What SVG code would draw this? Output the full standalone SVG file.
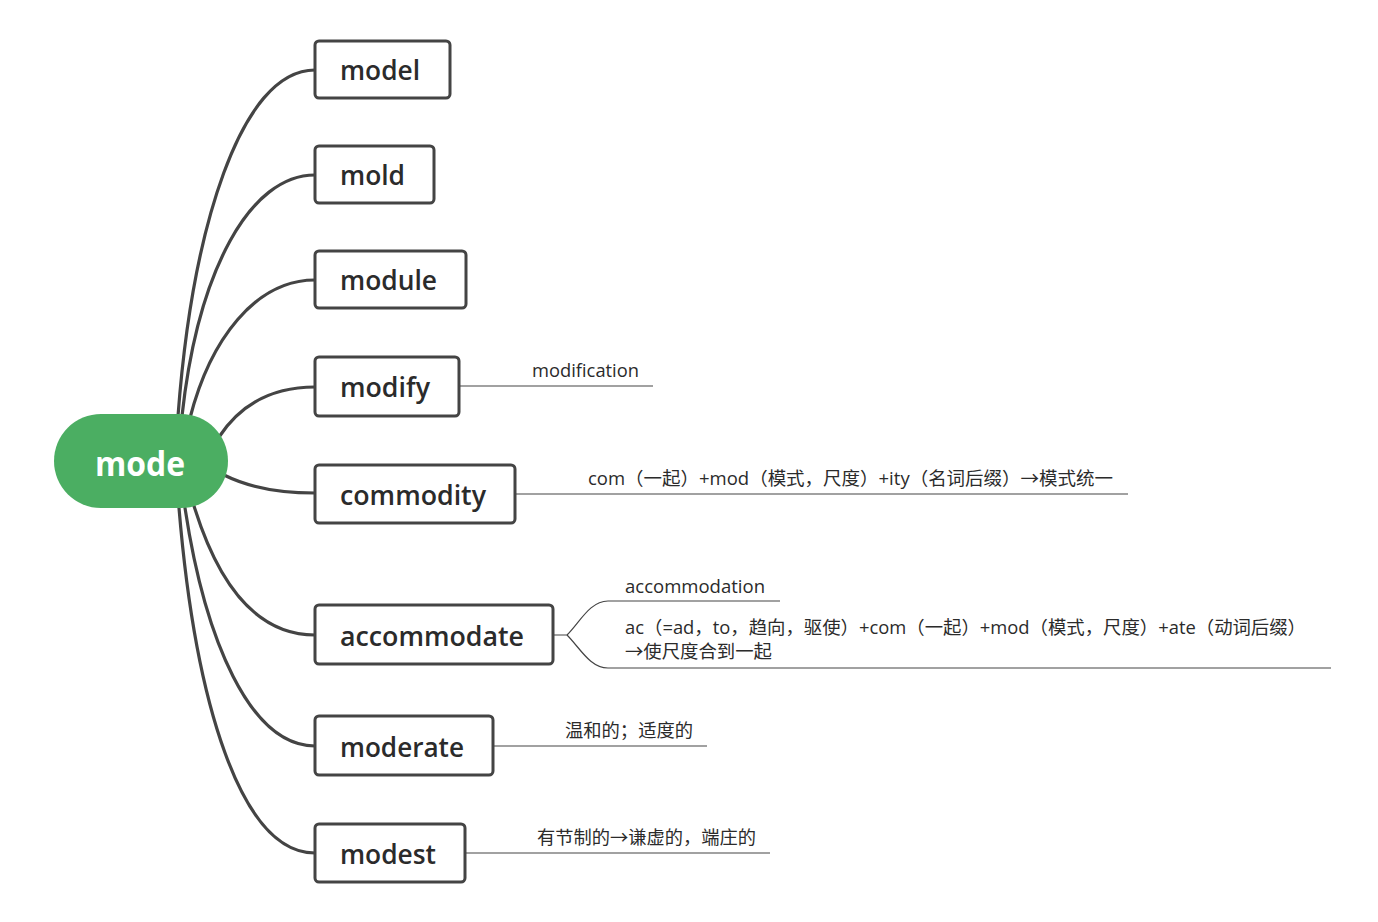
<svg xmlns="http://www.w3.org/2000/svg" width="1378" height="922" viewBox="0 0 1378 922">
<style>
.bg{fill:#ffffff}
.box{fill:#ffffff;stroke:#444444;stroke-width:3}
.lbl{font-family:"Open Sans","Noto Sans",sans-serif;font-size:27px;font-weight:600;fill:#2b2b2b}
.root{fill:#4bae62}
.rootlbl{font-family:"Open Sans","Noto Sans",sans-serif;font-size:34px;font-weight:700;fill:#ffffff}
.conn{fill:none;stroke:#444444;stroke-width:3.2;stroke-linecap:round}
.sub{fill:none;stroke:#444444;stroke-width:1.2}
.note{font-family:"Open Sans","Noto Sans CJK SC",sans-serif;font-size:18px;fill:#2b2b2b}
</style>
<rect class="bg" x="0" y="0" width="1378" height="922"/>
<g id="connectors">
<path class="conn" d="M178,416 C192,230 240,70 315,70"/>
<path class="conn" d="M182,416 C198,270 250,175 315,175"/>
<path class="conn" d="M190,418 C210,340 255,280 315,280"/>
<path class="conn" d="M219,437 C240,405 270,387 315,387"/>
<path class="conn" d="M224,475 C250,488 280,493 315,493"/>
<path class="conn" d="M194,506 C220,590 260,635 315,635"/>
<path class="conn" d="M185,508 C205,640 250,746 315,746"/>
<path class="conn" d="M179,508 C195,700 240,853 315,853"/>
<path class="sub" d="M459,386 H653"/>
<path class="sub" d="M515,494 H1128"/>
<path class="sub" d="M553,635 H567 C580,622 590,601 608,601 H780"/>
<path class="sub" d="M567,635 C580,648 590,668 608,668 H1331"/>
<path class="sub" d="M493,746 H707"/>
<path class="sub" d="M465,853 H770"/>
</g>
<g id="node-mode">
<rect class="root" x="54" y="414" width="174" height="94" rx="47"/>
<text class="rootlbl" x="95" y="476" textLength="90" lengthAdjust="spacingAndGlyphs">mode</text>
</g>
<g id="node-model">
<rect class="box" x="315" y="41" width="135" height="57" rx="4"/>
<text class="lbl" x="340" y="80" textLength="80" lengthAdjust="spacingAndGlyphs">model</text>
</g>
<g id="node-mold">
<rect class="box" x="315" y="146" width="119" height="57" rx="4"/>
<text class="lbl" x="340" y="185" textLength="65" lengthAdjust="spacingAndGlyphs">mold</text>
</g>
<g id="node-module">
<rect class="box" x="315" y="251" width="151" height="57" rx="4"/>
<text class="lbl" x="340" y="290" textLength="97" lengthAdjust="spacingAndGlyphs">module</text>
</g>
<g id="node-modify">
<rect class="box" x="315" y="357" width="144" height="59" rx="4"/>
<text class="lbl" x="340" y="397" textLength="90" lengthAdjust="spacingAndGlyphs">modify</text>
</g>
<g id="node-commodity">
<rect class="box" x="315" y="465" width="200" height="58" rx="4"/>
<text class="lbl" x="340" y="505" textLength="146" lengthAdjust="spacingAndGlyphs">commodity</text>
<text class="note" x="588" y="485" textLength="525" lengthAdjust="spacingAndGlyphs">com（一起）+mod（模式，尺度）+ity（名词后缀）→模式统一</text>
</g>
<g id="node-modify-note">
<text class="note" x="532" y="377" textLength="107" lengthAdjust="spacingAndGlyphs">modification</text>
</g>
<g id="node-accommodate">
<rect class="box" x="315" y="605" width="238" height="59" rx="4"/>
<text class="lbl" x="340" y="646" textLength="184" lengthAdjust="spacingAndGlyphs">accommodate</text>
</g>
<g id="node-accommodate-notes">
<text class="note" x="625" y="593" textLength="140" lengthAdjust="spacingAndGlyphs">accommodation</text>
<text class="note" x="625" y="634" textLength="681" lengthAdjust="spacingAndGlyphs">ac（=ad，to，趋向，驱使）+com（一起）+mod（模式，尺度）+ate（动词后缀）</text>
<text class="note" x="625" y="658" textLength="147" lengthAdjust="spacingAndGlyphs">→使尺度合到一起</text>
</g>
<g id="node-moderate">
<rect class="box" x="315" y="716" width="178" height="59" rx="4"/>
<text class="lbl" x="340" y="757" textLength="124" lengthAdjust="spacingAndGlyphs">moderate</text>
<text class="note" x="565" y="737" textLength="128" lengthAdjust="spacingAndGlyphs">温和的；适度的</text>
</g>
<g id="node-modest">
<rect class="box" x="315" y="824" width="150" height="58" rx="4"/>
<text class="lbl" x="340" y="864" textLength="96" lengthAdjust="spacingAndGlyphs">modest</text>
<text class="note" x="537" y="844" textLength="219" lengthAdjust="spacingAndGlyphs">有节制的→谦虚的，端庄的</text>
</g>
</svg>
